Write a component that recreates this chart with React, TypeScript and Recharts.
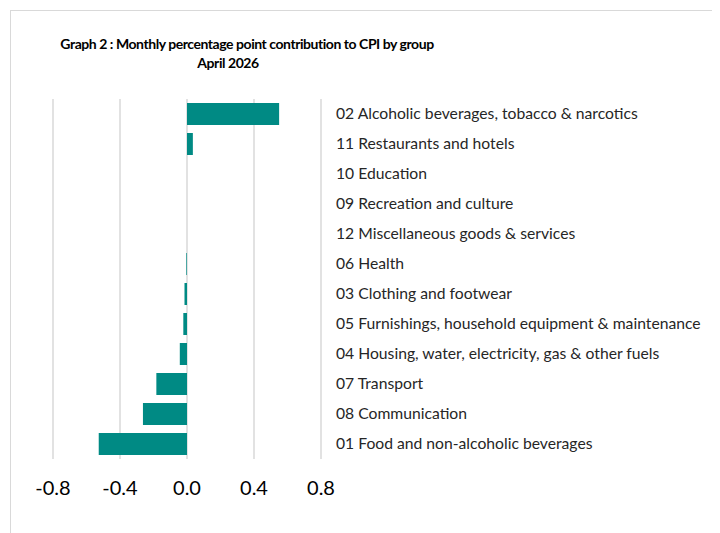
import { BarChart, Bar, XAxis, YAxis, CartesianGrid } from "recharts";

const groups = [
  "02 Alcoholic beverages, tobacco & narcotics",
  "11 Restaurants and hotels",
  "10 Education",
  "09 Recreation and culture",
  "12 Miscellaneous goods & services",
  "06 Health",
  "03 Clothing and footwear",
  "05 Furnishings, household equipment & maintenance",
  "04 Housing, water, electricity, gas & other fuels",
  "07 Transport",
  "08 Communication",
  "01 Food and non-alcoholic beverages",
];

const contributions = [0.55, 0.035, 0, 0, 0, -0.004, -0.015, -0.022, -0.043, -0.183, -0.263, -0.527];

const xTicks = [-0.8, -0.4, 0, 0.4, 0.8];

const data = groups.map((g, i) => ({ group: g, value: contributions[i] }));

const FONT = "Lato, 'Open Sans', sans-serif";

// category labels sit left-aligned to the right of the plot
const GroupTick = ({ x, y, payload }: any) => (
  <text x={x} y={y} dy={5} textAnchor="start" fontSize={15.7} fill="#262626" fontFamily={FONT}>
    {payload.value}
  </text>
);

const titleStyle = {
  position: "absolute" as const,
  left: 0,
  textAlign: "center" as const,
  fontWeight: 700,
  fontSize: 14,
  letterSpacing: -0.45,
  color: "#000",
  lineHeight: "19px",
};

export default function App() {
  return (
    <div style={{ position: "relative", width: 712, height: 525, fontFamily: FONT }}>
      <div
        style={{
          position: "absolute",
          left: 2,
          top: 2,
          width: 720,
          height: 540,
          borderTop: "1px solid #d9d9d9",
          borderLeft: "1px solid #d9d9d9",
        }}
      />
      <div style={{ ...titleStyle, width: 478, top: 26 }}>
        Graph 2 : Monthly percentage point contribution to CPI by group
      </div>
      <div style={{ ...titleStyle, width: 440, top: 45 }}>April 2026</div>
      <BarChart
        width={712}
        height={525}
        data={data}
        layout="vertical"
        margin={{ top: 91, right: 0, left: 45, bottom: 34 }}
        barCategoryGap={4}
      >
        <CartesianGrid horizontal={false} stroke="#d9d9d9" strokeWidth={1.5} />
        <XAxis
          type="number"
          domain={[-0.8, 0.8]}
          ticks={xTicks}
          tickFormatter={(v: number) => v.toFixed(1)}
          axisLine={false}
          tickLine={false}
          tickMargin={16}
          height={40}
          tick={{ fontSize: 20, fill: "#000", fontFamily: FONT }}
        />
        <YAxis
          type="category"
          dataKey="group"
          orientation="right"
          width={399}
          axisLine={false}
          tickLine={false}
          tickSize={0}
          tickMargin={15}
          tick={<GroupTick />}
          interval={0}
        />
        <Bar dataKey="value" fill="#008a84" isAnimationActive={false} />
      </BarChart>
    </div>
  );
}
